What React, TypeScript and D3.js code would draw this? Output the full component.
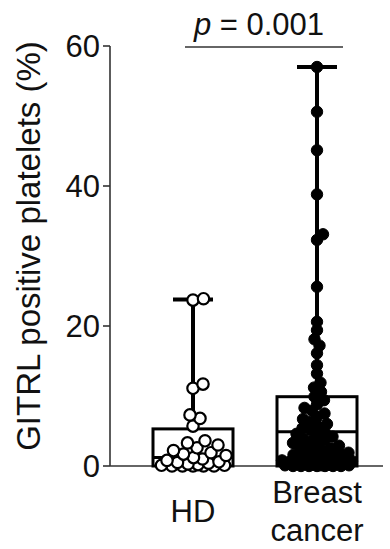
import React from "react";
import * as d3 from "d3";

const CATEGORIES = ["HD", "Breast cancer"];
const CATEGORY_LINES = [["HD"], ["Breast", "cancer"]];

const HD_VALUES = [
  23.9, 23.7, 11.7, 11.1, 7.3, 6.8, 5.7, 3.6, 3.3, 3.0, 2.6, 2.2, 1.9, 1.7, 1.5,
  1.2, 1.0, 0.8, 0.6, 0.5, 0.4, 0.3, 0.2, 0.1, 0.1, 0.0, 0.0, 0.0, 0.0, 0.0,
];

const BC_VALUES = [
  57, 50.6, 45.1, 38.8, 33.1, 32.3, 25.6, 20.6, 19.4, 18.1, 17.2, 16.1, 14.4,
  13.2, 11.9, 11.2, 10.6, 9.9, 9.4, 8.8, 8.3, 7.9, 7.5, 7.0, 6.7, 6.3, 6.0,
  5.7, 5.4, 5.1, 4.9, 4.6, 4.4, 4.2, 3.9, 3.7, 3.5, 3.3, 3.1, 2.9, 2.7, 2.5,
  2.4, 2.2, 2.0, 1.9, 1.7, 1.6, 1.4, 1.3, 1.1, 1.0, 0.9, 0.8, 0.7, 0.6, 0.5,
  0.4, 0.3, 0.3, 0.2, 0.2, 0.1, 0.1, 0.1, 0.0, 0.0, 0.0, 0.0, 0.0, 0.0, 0.0,
];

const BOX_Q1 = [0, 0];
const BOX_MEDIAN = [1.2, 4.9];
const BOX_Q3 = [5.3, 9.9];
const WHISKER_MAX = [23.8, 57];

const Y_TICKS = [0, 20, 40, 60];
const P_LABEL = "0.001";

const W = 390;
const H = 549;
const FONT = "'Liberation Sans', Arial, Helvetica, sans-serif";

function swarm(
  values: number[],
  cx: number,
  y: (v: number) => number,
  minD: number,
  maxOff: number
) {
  const sorted = [...values].sort((a, b) => a - b);
  const placed: { x: number; y: number; v: number }[] = [];
  const offsets: number[] = [0];
  for (let m = 0.5; m <= maxOff; m += 0.5) {
    offsets.push(m, -m);
  }
  for (const v of sorted) {
    const py = y(v);
    let chosen = cx;
    let bestScore = -1;
    for (const off of offsets) {
      const px = cx + off;
      let minDist = Infinity;
      for (const p of placed) {
        const dx = p.x - px;
        const dy = p.y - py;
        const d = Math.sqrt(dx * dx + dy * dy);
        if (d < minDist) minDist = d;
      }
      if (minDist >= minD) {
        chosen = px;
        break;
      }
      if (minDist > bestScore) {
        bestScore = minDist;
        chosen = px;
      }
    }
    placed.push({ x: chosen, y: py, v });
  }
  return placed;
}

export default function App() {
  const y = d3.scaleLinear().domain([0, 60]).range([466, 46]);
  const x = d3.scalePoint<string>().domain(CATEGORIES).range([193, 317]);
  const axisX = 110;
  const boxHalf = 40;
  const capHalf = 20;

  const hdPts = swarm(HD_VALUES, x("HD")!, y, 10.4, 33);
  const bcPts = swarm(BC_VALUES, x("Breast cancer")!, y, 8.0, 35);

  return (
    <svg width={W} height={H} style={{ position: "absolute", left: 0, top: 0 }}>
      <rect width={W} height={H} fill="#fff" />
      {/* axes */}
      <line x1={axisX} x2={axisX} y1={y(60)} y2={y(0)} stroke="#333" strokeWidth={1.6} />
      <line x1={axisX} x2={383} y1={y(0)} y2={y(0)} stroke="#333" strokeWidth={1.6} />
      {Y_TICKS.map((t) => (
        <g key={t}>
          <line x1={axisX - 7} x2={axisX} y1={y(t)} y2={y(t)} stroke="#333" strokeWidth={1.6} />
          <text
            x={axisX - 10}
            y={y(t)}
            dy="0.36em"
            textAnchor="end"
            fontFamily={FONT}
            fontSize={31}
            fill="#111"
          >
            {t}
          </text>
        </g>
      ))}
      <text
        transform={`translate(40,246) rotate(-90)`}
        textAnchor="middle"
        fontFamily={FONT}
        fontSize={33}
        fill="#111"
      >
        GITRL positive platelets (%)
      </text>

      {/* boxes and whiskers */}
      {CATEGORIES.map((c, i) => {
        const cx = x(c)!;
        return (
          <g key={c}>
            <line x1={cx} x2={cx} y1={y(BOX_Q3[i])} y2={y(WHISKER_MAX[i])} stroke="#000" strokeWidth={4} />
            <line
              x1={cx - capHalf}
              x2={cx + capHalf}
              y1={y(WHISKER_MAX[i])}
              y2={y(WHISKER_MAX[i])}
              stroke="#000"
              strokeWidth={4}
            />
            <rect
              x={cx - boxHalf}
              y={y(BOX_Q3[i])}
              width={boxHalf * 2}
              height={y(BOX_Q1[i]) - y(BOX_Q3[i])}
              fill="none"
              stroke="#000"
              strokeWidth={3}
            />
            <line
              x1={cx - boxHalf}
              x2={cx + boxHalf}
              y1={y(BOX_MEDIAN[i])}
              y2={y(BOX_MEDIAN[i])}
              stroke="#000"
              strokeWidth={3}
            />
          </g>
        );
      })}

      {/* points */}
      {hdPts.map((p, i) => (
        <circle key={"h" + i} cx={p.x} cy={p.y} r={5.7} fill="#fff" stroke="#000" strokeWidth={2.2} />
      ))}
      {bcPts.map((p, i) => (
        <circle key={"b" + i} cx={p.x} cy={p.y} r={5.7} fill="#000" stroke="#000" strokeWidth={1} />
      ))}

      {/* significance bracket */}
      <line x1={185} x2={343} y1={47} y2={47} stroke="#333" strokeWidth={1.6} />
      <text x={259} y={35} textAnchor="middle" fontFamily={FONT} fontSize={31} fill="#111">
        <tspan fontStyle="italic">p</tspan>
        <tspan> = {P_LABEL}</tspan>
      </text>

      {/* category labels */}
      {CATEGORIES.map((c, i) => {
        const lines = CATEGORY_LINES[i];
        const lineH = 38;
        const base = 522 - ((lines.length - 1) * lineH) / 2;
        return (
          <text key={c} textAnchor="middle" fontFamily={FONT} fontSize={31} fill="#111">
            {lines.map((ln, j) => (
              <tspan key={j} x={x(c)!} y={base + j * lineH}>
                {ln}
              </tspan>
            ))}
          </text>
        );
      })}
    </svg>
  );
}
